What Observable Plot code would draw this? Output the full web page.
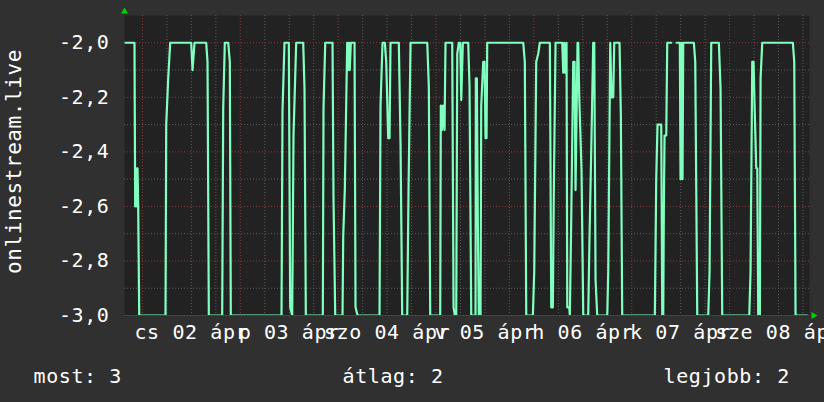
<!DOCTYPE html>
<html><head><meta charset="utf-8">
<script src="https://cdn.jsdelivr.net/npm/d3@7"></script>
<script src="https://cdn.jsdelivr.net/npm/@observablehq/plot@0.6"></script>
<style>
html,body{margin:0;padding:0;background:#303030;}
#chart{width:824px;height:402px;overflow:hidden;}
svg{display:block;}
</style></head><body><div id="chart"></div>
<script>
// hours since 01 ápr 19:36 (UTC) and values, segment by segment
const hours = [
  0.25,2.45,2.62,2.82,3.02,3.19,3.36,3.61,
  10.06,10.23,10.72,11.21,
  16.36,16.68,17.17,
  20.04,20.36,20.68,
  23.96,24.21,24.60,
  25.44,25.83,26.07,
  38.51,38.75,39.24,
  40.30,40.64,41.13,
  41.45,42.11,
  43.83,44.15,44.47,
  48.64,48.81,49.23,
  51.02,51.26,51.68,
  53.47,53.64,54.03,54.62,54.82,55.01,55.24,55.51,
  56.42,56.66,57.15,
  62.55,62.79,63.28,
  63.85,64.19,64.68,65.00,65.24,
  67.28,67.70,68.11,
  69.34,69.66,70.15,
  74.25,74.64,74.98,
  77.43,77.58,77.87,78.12,78.49,78.73,
  80.38,80.70,81.02,81.36,81.61,82.00,82.35,82.59,82.98,
  84.30,84.62,85.04,
  86.09,86.17,86.41,86.66,86.90,87.32,87.49,87.98,88.30,88.55,88.79,88.96,
  97.79,98.18,98.53,
  100.15,100.49,100.98,101.47,101.86,
  104.32,104.66,105.05,105.30,105.72,
  107.36,107.60,107.85,108.09,108.41,108.59,109.08,109.22,109.57,110.06,110.38,110.62,111.11,111.28,111.53,112.09,112.51,
  113.73,114.05,114.54,114.96,115.21,115.53,115.94,
  118.40,118.64,119.13,119.45,119.87,120.11,121.41,121.73,122.07,
  130.07,130.41,130.73,131.64,131.89,132.13,132.28,132.45,132.87,133.11,134.09,
  134.70,
  135.39,136.20,136.37,136.62,136.86,137.03,
  139.64,139.98,140.47,
  143.17,143.49,143.90,
  145.77,146.19,146.60,
  153.23,153.54,153.96,154.28,154.53,154.94,155.19,155.43,155.83,156.00,156.41,
  163.92,164.26,164.58,167.45
];
const values = [
  -2.0,-2.0,-2.6,-2.46,-2.6,-2.46,-2.6,-3.0,
  -3.0,-2.30,-2.13,-2.0,
  -2.0,-2.1,-2.0,
  -2.0,-2.07,-3.0,
  -3.0,-2.24,-2.0,
  -2.0,-2.07,-3.0,
  -3.0,-2.25,-2.0,
  -2.0,-2.97,-3.0,
  -2.34,-2.0,
  -2.0,-2.17,-3.0,
  -3.0,-2.24,-2.0,
  -2.0,-2.57,-3.0,
  -3.0,-2.71,-2.54,-2.0,-2.1,-2.0,-2.1,-2.0,
  -2.0,-2.97,-3.0,
  -3.0,-2.23,-2.0,
  -2.0,-2.07,-2.35,-2.35,-2.0,
  -2.0,-2.37,-3.0,
  -3.0,-2.54,-2.0,
  -2.0,-2.16,-3.0,
  -3.0,-2.23,-2.32,-2.23,-2.32,-2.0,
  -2.0,-2.97,-3.0,-3.0,-2.04,-2.0,-2.0,-2.21,-2.0,
  -2.0,-2.16,-3.0,
  -3.0,-2.13,-2.13,-2.67,-3.0,-3.0,-2.23,-2.07,-2.07,-2.35,-2.35,-2.0,
  -2.0,-2.07,-3.0,
  -3.0,-2.84,-2.07,-2.04,-2.0,
  -2.0,-2.97,-2.97,-2.53,-2.0,
  -2.0,-2.11,-2.0,-2.11,-2.0,-2.97,-2.97,-3.0,-2.64,-2.07,-2.07,-2.54,-2.0,-2.0,-2.2,-2.47,-3.0,
  -3.0,-2.71,-2.34,-2.0,-2.0,-2.87,-3.0,
  -3.0,-2.84,-2.0,-2.2,-2.2,-2.0,-2.0,-2.26,-3.0,
  -3.0,-2.5,-2.3,-2.3,-3.0,-3.0,-2.6,-2.34,-2.34,-2.0,-2.0,
  NaN,
  -2.0,-2.0,-2.5,-2.0,-2.5,-2.0,
  -2.0,-2.07,-3.0,
  -3.0,-2.84,-2.0,
  -2.0,-2.17,-3.0,
  -3.0,-2.84,-2.07,-2.07,-2.23,-2.46,-2.46,-3.0,-3.0,-2.13,-2.0,
  -2.0,-2.07,-3.0,-3.0
];
const dayNoons = ["2020-04-02T12:00Z","2020-04-03T12:00Z","2020-04-04T12:00Z","2020-04-05T12:00Z","2020-04-06T12:00Z","2020-04-07T12:00Z","2020-04-08T12:00Z"];
const dayLabels = ["cs 02 ápr","p 03 ápr","szo 04 ápr","v 05 ápr","h 06 ápr","k 07 ápr","sze 08 ápr"];
const yTicks = [-2.0,-2.2,-2.4,-2.6,-2.8,-3.0];
const yTickLabels = ["-2,0","-2,2","-2,4","-2,6","-2,8","-3,0"];
const yMinor = [-2.1,-2.3,-2.5,-2.7,-2.9];
const legendLabels = ["most: 3","átlag: 2","legjobb: 2"];
const seriesName = "onlinestream.live";

const start = Date.UTC(2020,3,1,19,36);
const end = start + 168*3600e3;
const data = hours.map((h,i)=>({t:new Date(start+h*3600e3), v:values[i]}));
const midnights = d3.utcDay.range(new Date(start), new Date(end));
const sixHour = d3.utcHour.every(6).range(new Date(start), new Date(end)).filter(d=>d.getUTCHours()!==0);

const txt = {fill:"#ffffff", lineAnchor:"bottom"};
const chart = Plot.plot({
  width:824, height:402,
  marginLeft:124, marginRight:15, marginTop:15, marginBottom:87,
  style:{background:"#303030", color:"#fff", fontFamily:"'DejaVu Sans Mono', monospace", fontSize:"20px", letterSpacing:"0.6px", overflow:"hidden"},
  x:{type:"utc", domain:[new Date(start), new Date(end)], axis:null},
  y:{domain:[-3.0,-1.9], axis:null},
  marks:[
    Plot.frame({fill:"#222222", stroke:null}),
    Plot.ruleX(sixHour, {stroke:"#5c5c5c", strokeDasharray:"1,2"}),
    Plot.ruleY(yMinor, {stroke:"#5c5c5c", strokeDasharray:"1,2"}),
    Plot.ruleX(midnights, {stroke:"#8c3c3c", strokeDasharray:"1,2"}),
    Plot.ruleY(yTicks, {stroke:"#8c3c3c", strokeDasharray:"1,2"}),
    Plot.line(data, {x:"t", y:"v", stroke:"#80ffbf", strokeWidth:2.2, clip:true}),
    Plot.ruleY([-3.0], {stroke:"#4c4c4c", strokeOpacity:0.6}),
    Plot.text(dayNoons, {x:d=>new Date(d), text:(d,i)=>dayLabels[i], frameAnchor:"bottom", dy:23, ...txt}),
    Plot.text(yTicks, {y:d=>d, text:(d,i)=>yTickLabels[i], frameAnchor:"left", textAnchor:"end", dx:-15, fill:"#fff"}),
    Plot.text([seriesName], {text:d=>d, frameAnchor:"left", textAnchor:"middle", rotate:-90, dx:-110, dy:-4, fontSize:21, fill:"#fff"}),
    Plot.text([legendLabels[0]], {text:d=>d, frameAnchor:"bottom-left", textAnchor:"start", dx:-91, dy:67, ...txt}),
    Plot.text([legendLabels[1]], {text:d=>d, frameAnchor:"bottom-left", textAnchor:"start", dx:218, dy:67, ...txt}),
    Plot.text([legendLabels[2]], {text:d=>d, frameAnchor:"bottom-left", textAnchor:"start", dx:539, dy:67, ...txt}),
    Plot.dot([start], {x:d=>new Date(d), frameAnchor:"top", symbol:"triangle", r:2.6, fill:"#00d000", stroke:null, dy:-4}),
    Plot.dot([end], {x:d=>new Date(d), frameAnchor:"bottom", symbol:"triangle", rotate:90, r:2.6, fill:"#00d000", stroke:null, dx:4})
  ]
});
document.getElementById("chart").appendChild(chart);
</script></body></html>
